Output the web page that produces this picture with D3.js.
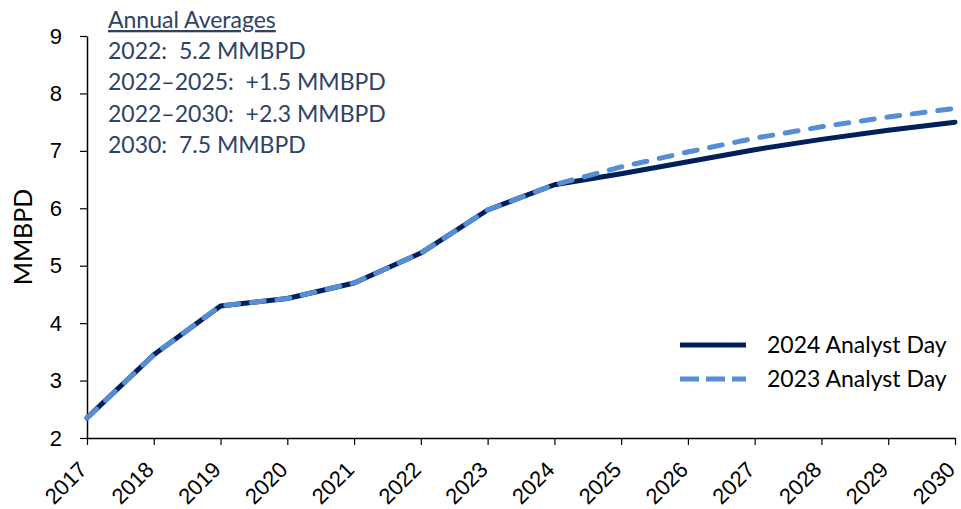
<!DOCTYPE html>
<html>
<head>
<meta charset="utf-8">
<script src="https://cdn.jsdelivr.net/npm/d3@7"></script>
<style>
  html, body { margin: 0; padding: 0; background: #fff; }
  svg { display: block; font-family: Lato, "Open Sans", sans-serif; }
  .note text { white-space: pre; }
</style>
</head>
<body>
<svg id="chart" width="961" height="509"></svg>
<script>
// Production outlook, million barrels per day
const years = [2017, 2018, 2019, 2020, 2021, 2022, 2023, 2024, 2025, 2026, 2027, 2028, 2029, 2030];
const analystDay2024 = [2.35, 3.45, 4.30, 4.43, 4.70, 5.22, 5.97, 6.41, 6.60, 6.81, 7.02, 7.20, 7.36, 7.50];
const analystDay2023 = [2.35, 3.45, 4.30, 4.43, 4.70, 5.22, 5.97, 6.41, 6.72, 6.98, 7.22, 7.42, 7.59, 7.74];
const yTicks = [2, 3, 4, 5, 6, 7, 8, 9];
const seriesNames = ["2024 Analyst Day", "2023 Analyst Day"];
const noteTitle = "Annual Averages";
const noteLines = ["2022:  5.2 MMBPD", "2022\u20132025:  +1.5 MMBPD", "2022\u20132030:  +2.3 MMBPD", "2030:  7.5 MMBPD"];

const svg = d3.select("#chart");
const plot = { left: 87, right: 955, top: 36, bottom: 438 };

const x = d3.scaleLinear().domain([2017, 2030]).range([plot.left, plot.right]);
const y = d3.scaleLinear().domain([2, 9]).range([plot.bottom, plot.top]);

// axes
const xAxis = svg.append("g")
  .attr("transform", `translate(0,${plot.bottom})`)
  .call(d3.axisBottom(x).tickValues(years).tickFormat(d3.format("d")).tickSize(7).tickSizeOuter(0));
xAxis.select(".domain").attr("stroke", "#000").attr("stroke-width", 1.5);
xAxis.selectAll(".tick line").attr("stroke", "#000").attr("stroke-width", 1.2);
xAxis.selectAll(".tick text")
  .attr("font-size", 22)
  .attr("fill", "#000")
  .attr("text-anchor", "end")
  .attr("y", 0)
  .attr("dy", 0)
  .attr("transform", "translate(1,33) rotate(-45)");

const yAxis = svg.append("g")
  .attr("transform", `translate(${plot.left},0)`)
  .call(d3.axisLeft(y).tickValues(yTicks).tickFormat(d3.format("d")).tickSize(7).tickSizeOuter(0));
yAxis.select(".domain").attr("stroke", "#000").attr("stroke-width", 1.5);
yAxis.selectAll(".tick line").attr("stroke", "#000").attr("stroke-width", 1.2);
yAxis.selectAll(".tick text")
  .attr("font-size", 22)
  .attr("fill", "#000")
  .attr("x", -25);

svg.append("text")
  .attr("transform", `translate(32,${(plot.top + plot.bottom) / 2}) rotate(-90)`)
  .attr("text-anchor", "middle")
  .attr("font-size", 25)
  .attr("fill", "#000")
  .text("MMBPD");

// lines
const line = d3.line().x((d, i) => x(years[i])).y(d => y(d));

svg.append("path")
  .datum(analystDay2024)
  .attr("d", line)
  .attr("fill", "none")
  .attr("stroke", "#00205B")
  .attr("stroke-width", 5)
  .attr("stroke-linejoin", "round")
  .attr("stroke-linecap", "round");

svg.append("path")
  .datum(analystDay2023)
  .attr("d", line)
  .attr("fill", "none")
  .attr("stroke", "#558ED5")
  .attr("stroke-width", 5)
  .attr("stroke-linejoin", "round")
  .attr("stroke-linecap", "round")
  .attr("stroke-dasharray", "13,12.7");

// legend
const legend = svg.append("g");
const legendItems = [
  { name: seriesNames[0], color: "#00205B", dash: null, y: 345 },
  { name: seriesNames[1], color: "#558ED5", dash: "19,7", y: 379 }
];
legendItems.forEach(item => {
  legend.append("line")
    .attr("x1", 680).attr("x2", 746)
    .attr("y1", item.y).attr("y2", item.y)
    .attr("stroke", item.color)
    .attr("stroke-width", 5)
    .attr("stroke-dasharray", item.dash);
  legend.append("text")
    .attr("x", 767).attr("y", item.y + 8)
    .attr("font-size", 23)
    .attr("fill", "#000")
    .text(item.name);
});

// annotation block
const note = svg.append("g").attr("class", "note").attr("fill", "#2E4266");
note.append("text")
  .attr("x", 108).attr("y", 28)
  .attr("font-size", 23)
  .attr("text-decoration", "underline")
  .text(noteTitle);
noteLines.forEach((t, i) => {
  note.append("text")
    .attr("x", 108).attr("y", 59 + i * 31.3)
    .attr("font-size", 23)
    .text(t);
});
</script>
</body>
</html>
